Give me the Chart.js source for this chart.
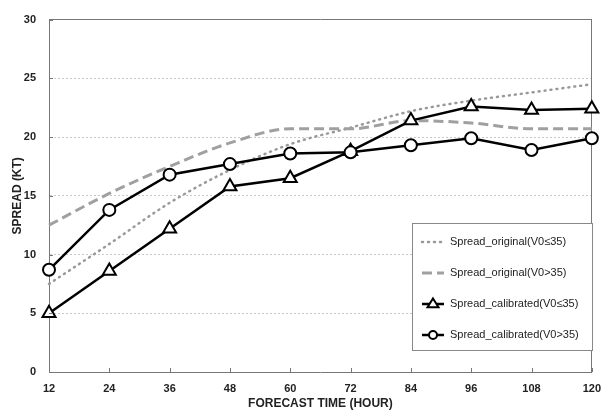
<!DOCTYPE html>
<html>
<head>
<meta charset="utf-8">
<script src="https://cdn.jsdelivr.net/npm/chart.js@4"></script>
<style>
    html, body { margin: 0; padding: 0; background: #fff; }
    #wrap { width: 611px; height: 415px; }
</style>
</head>
<body>
<div id="wrap"><canvas id="spreadChart" width="611" height="415"></canvas></div>
<script>
// Forecast hours
const hours = [12, 24, 36, 48, 60, 72, 84, 96, 108, 120];

// Spread values (KT)
const origWeak = [7.5, 10.9, 14.4, 17.2, 19.4, 20.8, 22.2, 23.1, 23.8, 24.5];
const origStrong = [12.5, 15.2, 17.5, 19.5, 20.7, 20.7, 21.4, 21.2, 20.7, 20.7];
const calWeak = [5.0, 8.6, 12.2, 15.8, 16.5, 18.8, 21.4, 22.6, 22.3, 22.4];
const calStrong = [8.7, 13.8, 16.8, 17.7, 18.6, 18.7, 19.3, 19.9, 18.9, 19.9];

const yTicks = [0, 5, 10, 15, 20, 25, 30];

const FONT = "'Liberation Sans', Arial, sans-serif";

function toPoints(values) {
    return hours.map((h, i) => ({ x: h, y: values[i] }));
}

// Small inward tick marks + legend box inside the plot
const extras = {
    id: "extras",
    afterDatasetsDraw(chart) {
        const ctx = chart.ctx;
        const xs = chart.scales.x;
        const ys = chart.scales.y;
        const area = chart.chartArea;
        ctx.save();
        ctx.strokeStyle = "#777";
        ctx.lineWidth = 1;
        hours.forEach(h => {
            const px = Math.round(xs.getPixelForValue(h)) + 0.5;
            ctx.beginPath();
            ctx.moveTo(px, area.bottom);
            ctx.lineTo(px, area.bottom - 4);
            ctx.stroke();
        });
        yTicks.forEach(v => {
            const py = Math.round(ys.getPixelForValue(v)) + 0.5;
            ctx.beginPath();
            ctx.moveTo(area.left, py);
            ctx.lineTo(area.left + 4, py);
            ctx.stroke();
        });

        // Legend
        const bx = 412, by = 223, bw = 180, bh = 127;
        ctx.fillStyle = "#fff";
        ctx.fillRect(bx, by, bw, bh);
        ctx.strokeStyle = "#888";
        ctx.strokeRect(bx + 0.5, by + 0.5, bw, bh);
        const rows = [242, 273, 304, 335];
        chart.data.datasets.forEach((ds, i) => {
            const y = rows[i];
            ctx.save();
            ctx.strokeStyle = ds.borderColor;
            ctx.lineWidth = ds.borderWidth;
            ctx.lineCap = ds.borderCapStyle || "butt";
            ctx.setLineDash(ds.borderDash || []);
            ctx.beginPath();
            ctx.moveTo(422, y);
            ctx.lineTo(444, y);
            ctx.stroke();
            ctx.restore();
            if (ds.pointRadius > 0) {
                ctx.fillStyle = "#fff";
                ctx.strokeStyle = "#000";
                ctx.lineWidth = ds.pointBorderWidth;
                ctx.beginPath();
                if (ds.pointStyle === "circle") {
                    ctx.arc(433, y, ds.pointRadius - 2, 0, Math.PI * 2);
                } else {
                    const r = ds.pointRadius - 2;
                    ctx.moveTo(433, y - r);
                    ctx.lineTo(433 + r, y + r * 0.6);
                    ctx.lineTo(433 - r, y + r * 0.6);
                    ctx.closePath();
                }
                ctx.fill();
                ctx.stroke();
            }
            ctx.fillStyle = "#222";
            ctx.font = "11px " + FONT;
            ctx.textBaseline = "middle";
            ctx.textAlign = "left";
            ctx.fillText(ds.label, 450, y);
        });
        ctx.restore();
    }
};

new Chart(document.getElementById("spreadChart"), {
    type: "line",
    data: {
        datasets: [
            {
                label: "Spread_original(V0\u226435)",
                data: toPoints(origWeak),
                borderColor: "#999",
                borderWidth: 2.5,
                borderDash: [1, 5],
                borderCapStyle: "round",
                pointRadius: 0,
                tension: 0.4,
                cubicInterpolationMode: "monotone",
                clip: false,
                order: 4
            },
            {
                label: "Spread_original(V0>35)",
                data: toPoints(origStrong),
                borderColor: "#a0a0a0",
                borderWidth: 3,
                borderDash: [10, 5],
                pointRadius: 0,
                tension: 0.4,
                cubicInterpolationMode: "monotone",
                clip: false,
                order: 3
            },
            {
                label: "Spread_calibrated(V0\u226435)",
                data: toPoints(calWeak),
                borderColor: "#000",
                borderWidth: 2.5,
                pointStyle: "triangle",
                pointRadius: 7.5,
                pointBorderWidth: 2,
                pointBackgroundColor: "#fff",
                pointBorderColor: "#000",
                tension: 0,
                clip: false,
                order: 2
            },
            {
                label: "Spread_calibrated(V0>35)",
                data: toPoints(calStrong),
                borderColor: "#000",
                borderWidth: 2.5,
                pointStyle: "circle",
                pointRadius: 6,
                pointBorderWidth: 2,
                pointBackgroundColor: "#fff",
                pointBorderColor: "#000",
                tension: 0,
                clip: false,
                order: 1
            }
        ]
    },
    options: {
        responsive: false,
        animation: false,
        layout: { padding: { top: 10, right: 9, left: 0, bottom: 0 } },
        plugins: {
            legend: { display: false },
            tooltip: { enabled: false }
        },
        scales: {
            x: {
                type: "linear",
                min: 12,
                max: 120,
                afterFit(scale) { scale.height = 43; },
                afterBuildTicks(scale) { scale.ticks = hours.map(v => ({ value: v })); },
                grid: { display: false, drawTicks: false },
                border: { display: true, color: "#777", width: 1 },
                ticks: {
                    padding: 10,
                    color: "#222",
                    font: { family: FONT, size: 11, weight: "bold" },
                    maxRotation: 0
                },
                title: {
                    display: true,
                    text: "FORECAST TIME (HOUR)",
                    color: "#222",
                    font: { family: FONT, size: 12, weight: "bold" },
                    padding: { top: 0, bottom: 4 }
                }
            },
            y: {
                min: 0,
                max: 30,
                afterFit(scale) { scale.width = 49; },
                afterBuildTicks(scale) { scale.ticks = yTicks.map(v => ({ value: v })); },
                grid: {
                    color: ctx => (ctx.tick && (ctx.tick.value === 0 || ctx.tick.value === 30)) ? "rgba(0,0,0,0)" : "#c8c8c8",
                    lineWidth: 1,
                    drawTicks: false
                },
                border: { display: true, color: "#777", width: 1, dash: [2, 2] },
                ticks: {
                    padding: 13,
                    color: "#222",
                    font: { family: FONT, size: 11, weight: "bold" }
                },
                title: {
                    display: true,
                    text: "SPREAD (KT)",
                    color: "#222",
                    font: { family: FONT, size: 12, weight: "bold" },
                    padding: { top: 10, bottom: 0 }
                }
            },
            xTop: {
                type: "linear",
                position: "top",
                display: true,
                min: 12,
                max: 120,
                afterFit(scale) { scale.height = 0; },
                grid: { display: false, drawTicks: false },
                border: { display: true, color: "#777", width: 1 },
                ticks: { display: false }
            },
            yRight: {
                position: "right",
                display: true,
                min: 0,
                max: 30,
                afterFit(scale) { scale.width = 0; },
                grid: { display: false, drawTicks: false },
                border: { display: true, color: "#777", width: 1 },
                ticks: { display: false }
            }
        }
    },
    plugins: [extras]
});
</script>
</body>
</html>
